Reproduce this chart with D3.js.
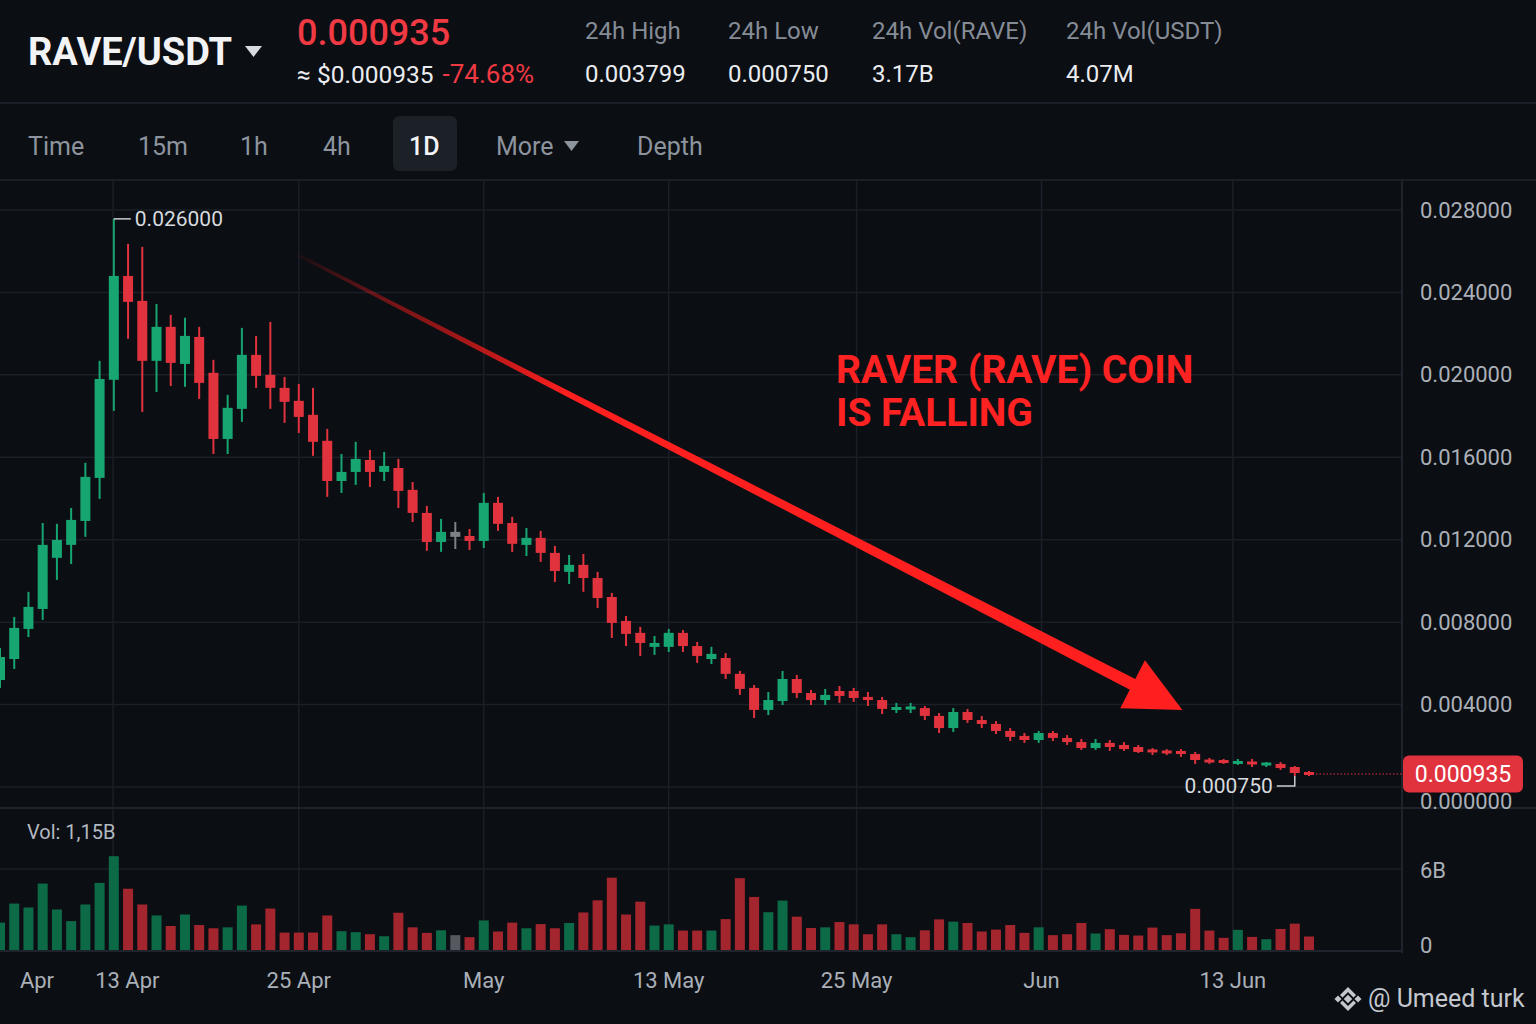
<!DOCTYPE html>
<html>
<head>
<meta charset="utf-8">
<script src="https://cdn.jsdelivr.net/npm/d3@7"></script>
<style>
html, body { margin: 0; padding: 0; background: #0b0e13; }
svg { display: block; font-family: Roboto, "Liberation Sans", sans-serif; }
</style>
</head>
<body>
<svg id="chart" width="1536" height="1024"></svg>
<script>
// daily candles
var opens = [0.00519,0.00621,0.00767,0.00864,0.01112,0.01175,0.01291,0.0150,0.01976,0.0248,
  0.02359,0.02068,0.02233,0.02053,0.02184,0.0201,0.01689,0.01835,0.02097,0.0200,
  0.01937,0.01874,0.01806,0.0168,0.01485,0.01529,0.01587,0.01529,0.01548,0.01442,
  0.0133,0.01189,0.01226,0.01218,0.01194,0.01379,0.01281,0.01175,0.01209,0.01136,
  0.01044,0.01078,0.01014,0.00922,0.00806,0.00748,0.0068,0.0068,0.00748,0.00684,
  0.00621,0.00626,0.00549,0.00481,0.00374,0.00417,0.00524,0.00456,0.00422,0.00466,
  0.00466,0.00437,0.00422,0.00374,0.00379,0.00383,0.00345,0.00286,0.00364,0.00325,
  0.00306,0.00272,0.00248,0.00228,0.00262,0.00238,0.00218,0.00189,0.00214,0.00204,
  0.00194,0.0018,0.00175,0.00175,0.0016,0.00131,0.00126,0.00112,0.00121,0.00107,
  0.00112,0.00097,0.00068];
var highs = [0.00675,0.00825,0.00947,0.01281,0.01277,0.01354,0.01573,0.02068,0.02757,0.02636,
  0.02621,0.02344,0.02291,0.02277,0.02233,0.02073,0.01903,0.02228,0.02189,0.02257,
  0.0199,0.01956,0.01937,0.01738,0.01616,0.01675,0.01636,0.01626,0.01592,0.0148,
  0.01364,0.01301,0.01286,0.01252,0.01427,0.01408,0.01311,0.01257,0.01243,0.0117,
  0.01126,0.01131,0.01044,0.00942,0.0083,0.00777,0.00733,0.00767,0.00762,0.00704,
  0.0068,0.0065,0.00563,0.00495,0.00461,0.00563,0.00544,0.00471,0.00476,0.0049,
  0.00481,0.00461,0.00437,0.00408,0.00408,0.00393,0.00359,0.00383,0.00379,0.00345,
  0.0032,0.00286,0.00262,0.00272,0.00272,0.00252,0.00233,0.00233,0.00228,0.00218,
  0.00204,0.00189,0.00184,0.00184,0.0017,0.00141,0.00136,0.00136,0.00136,0.00121,
  0.00121,0.00102,0.00078];
var lows = [0.00481,0.00573,0.00728,0.00811,0.01005,0.01082,0.01214,0.01398,0.01825,0.02175,
  0.0182,0.01917,0.01946,0.01942,0.01883,0.01616,0.01616,0.01772,0.01937,0.01835,
  0.01767,0.01718,0.01607,0.01408,0.01427,0.01466,0.01456,0.01485,0.01354,0.01286,
  0.01146,0.01141,0.01155,0.0115,0.0116,0.01243,0.01141,0.01121,0.01092,0.00995,
  0.00985,0.00947,0.00869,0.00723,0.00684,0.00636,0.00641,0.00655,0.00655,0.00602,
  0.00597,0.00524,0.00447,0.00335,0.00349,0.00398,0.00432,0.00398,0.00398,0.00408,
  0.00413,0.00393,0.00354,0.00359,0.00359,0.00325,0.00262,0.00267,0.00311,0.00286,
  0.00257,0.00223,0.00214,0.00214,0.00223,0.00204,0.0018,0.0018,0.00175,0.00175,
  0.00165,0.00155,0.00155,0.00146,0.00112,0.00112,0.00112,0.00107,0.00097,0.00097,
  0.00083,0.00053,0.00053];
var closes = [0.00631,0.00772,0.00874,0.01175,0.01199,0.01296,0.01505,0.0198,0.0248,0.02354,
  0.02068,0.02233,0.02058,0.02189,0.01961,0.01689,0.0184,0.02097,0.01995,0.01937,
  0.01869,0.01796,0.01675,0.01485,0.01529,0.01592,0.01529,0.01558,0.01437,0.0133,
  0.01189,0.01238,0.01226,0.01194,0.01379,0.01277,0.0118,0.01209,0.01136,0.01048,
  0.01078,0.01014,0.00917,0.00796,0.00743,0.00699,0.00699,0.00748,0.00684,0.00636,
  0.00646,0.00549,0.00476,0.00374,0.00422,0.00524,0.00456,0.00422,0.00447,0.00442,
  0.00432,0.00422,0.00379,0.00388,0.00388,0.00345,0.00286,0.00364,0.00325,0.00306,
  0.00272,0.00243,0.00228,0.00262,0.00238,0.00218,0.00189,0.00214,0.00194,0.00184,
  0.0017,0.0017,0.00165,0.0016,0.00131,0.00121,0.00121,0.00126,0.00112,0.00116,
  0.00092,0.00068,0.00063];
// volume in billions
var volumesB = [2.03,3.44,3.15,4.92,3.0,2.14,3.37,4.97,6.95,4.54,
  3.37,2.56,1.78,2.63,1.85,1.61,1.68,3.29,1.90,3.07,
  1.29,1.29,1.29,2.56,1.39,1.32,1.17,1.02,2.76,1.68,
  1.27,1.46,1.10,0.95,2.19,1.37,2.03,1.61,1.92,1.61,
  2.0,2.78,3.68,5.36,2.63,3.58,1.81,1.90,1.44,1.44,
  1.44,2.29,5.32,3.93,2.80,3.66,2.47,1.63,1.68,2.07,
  1.90,1.17,1.90,1.17,0.95,1.46,2.27,2.10,2.0,1.37,
  1.51,1.85,1.27,1.68,1.10,1.17,2.0,1.22,1.54,1.12,
  1.07,1.66,1.10,1.24,3.05,1.44,0.90,1.49,0.97,0.80,
  1.56,1.95,1.00];

var priceTicks = [0, 0.004, 0.008, 0.012, 0.016, 0.020, 0.024, 0.028];
var volTicks = [0, 6];
var dateLabels = ['Apr', '13 Apr', '25 Apr', 'May', '13 May', '25 May', 'Jun', '13 Jun'];
var dateLabelIdx = [2.6, 8.95, 21, 34, 47, 60.2, 73.2, 86.65];
var dateGridIdx = [7.95, 21, 34, 47, 60.2, 73.2, 86.65];

var statLabels = ['24h High', '24h Low', '24h Vol(RAVE)', '24h Vol(USDT)'];
var statValues = ['0.003799', '0.000750', '3.17B', '4.07M'];
var tabs = ['Time', '15m', '1h', '4h', '1D', 'More', 'Depth'];
var lastPriceText = '0.000935';
var changeText = '-74.68%';
var highNote = '0.026000';
var lowNote = '0.000750';

var green = '#17a671', red = '#e0333e', gray = '#7d8086';
var volGreen = '#0d6a47', volRed = '#a3252e', volGray = '#55585e';
var gridColor = '#1b1f27', axisText = '#aab0b8';

var svg = d3.select('#chart');
var axisX = 1402;

svg.append('rect').attr('width', 1536).attr('height', 1024).attr('fill', '#0b0e13');

var x = d3.scaleLinear().domain([0, opens.length - 1]).range([0, 1309]);
var y = d3.scaleLinear().domain([0, 0.028]).range([787, 210]);
var yVol = d3.scaleLinear().domain([0, 6]).range([950, 869]);

var candles = d3.range(opens.length).map(function(i) {
  return {i: i, o: opens[i], h: highs[i], l: lows[i], c: closes[i], v: volumesB[i]};
});
function dir(d) { return d.c > d.o ? 1 : (d.c < d.o ? -1 : 0); }

// ---- header ----
svg.append('line').attr('x1', 0).attr('x2', 1536).attr('y1', 103).attr('y2', 103)
   .attr('stroke', gridColor).attr('stroke-width', 2);
svg.append('line').attr('x1', 0).attr('x2', 1536).attr('y1', 180).attr('y2', 180)
   .attr('stroke', gridColor).attr('stroke-width', 2);

svg.append('text').attr('x', 28).attr('y', 52).attr('dominant-baseline', 'central')
   .attr('fill', '#f2f3f5').attr('font-size', 38).attr('font-weight', 700).text('RAVE/USDT');
svg.append('path').attr('d', 'M245,46 L262,46 L253.5,57 Z').attr('fill', '#d8dbe0');

svg.append('text').attr('x', 297).attr('y', 33).attr('dominant-baseline', 'central')
   .attr('fill', '#ef3a44').attr('font-size', 36).attr('font-weight', 500).text(lastPriceText);
var sub = svg.append('text').attr('x', 297).attr('y', 74).attr('dominant-baseline', 'central')
   .attr('font-size', 24.5);
sub.append('tspan').attr('fill', '#eaecef').text('\u2248 $' + lastPriceText);
sub.append('tspan').attr('fill', '#ef3a44').attr('dx', 9).attr('font-size', 26).text(changeText);

var statX = [585, 728, 872, 1066];
statLabels.forEach(function(s, k) {
  svg.append('text').attr('x', statX[k]).attr('y', 31).attr('dominant-baseline', 'central')
     .attr('fill', '#858c96').attr('font-size', 24).text(s);
  svg.append('text').attr('x', statX[k]).attr('y', 74).attr('dominant-baseline', 'central')
     .attr('fill', '#eaecef').attr('font-size', 24).text(statValues[k]);
});

var tabX = [28, 138, 240, 323, 409, 496, 637];
svg.append('rect').attr('x', 393).attr('y', 116).attr('width', 64).attr('height', 55)
   .attr('rx', 6).attr('fill', '#1c2027');
tabs.forEach(function(t, k) {
  svg.append('text').attr('x', tabX[k]).attr('y', 146).attr('dominant-baseline', 'central')
     .attr('fill', t === '1D' ? '#f4f5f7' : '#8d949e').attr('font-size', 25)
     .attr('font-weight', t === '1D' ? 500 : 400).text(t);
});
svg.append('path').attr('d', 'M564,141 L579,141 L571.5,151 Z').attr('fill', '#8d949e');

// ---- grid ----
var grid = svg.append('g');
grid.selectAll('.hg').data(priceTicks).enter().append('line')
    .attr('x1', 0).attr('x2', axisX).attr('y1', function(d) { return y(d); }).attr('y2', function(d) { return y(d); })
    .attr('stroke', gridColor).attr('stroke-width', 1.5);
grid.selectAll('.vg').data(dateGridIdx).enter().append('line')
    .attr('x1', function(d) { return x(d); }).attr('x2', function(d) { return x(d); })
    .attr('y1', 181).attr('y2', 951).attr('stroke', gridColor).attr('stroke-width', 1.5);
grid.append('line').attr('x1', 0).attr('x2', axisX).attr('y1', yVol(6)).attr('y2', yVol(6))
    .attr('stroke', gridColor).attr('stroke-width', 1.5);
svg.append('line').attr('x1', 0).attr('x2', 1536).attr('y1', 808).attr('y2', 808)
   .attr('stroke', '#1f232b').attr('stroke-width', 2);
svg.append('line').attr('x1', 0).attr('x2', axisX).attr('y1', 951).attr('y2', 951)
   .attr('stroke', '#1f232b').attr('stroke-width', 2);
svg.append('line').attr('x1', axisX).attr('x2', axisX).attr('y1', 181).attr('y2', 953)
   .attr('stroke', '#1f232b').attr('stroke-width', 2);

svg.append('clipPath').attr('id', 'plot').append('rect')
   .attr('x', 0).attr('y', 181).attr('width', axisX - 1).attr('height', 772);
var plot = svg.append('g').attr('clip-path', 'url(#plot)');

// ---- volume bars ----
plot.selectAll('.vol').data(candles).enter().append('rect')
    .attr('x', function(d) { return x(d.i) - 5; })
    .attr('width', 10)
    .attr('y', function(d) { return yVol(d.v); })
    .attr('height', function(d) { return yVol(0) - yVol(d.v); })
    .attr('fill', function(d) { var s = dir(d); return s > 0 ? volGreen : (s < 0 ? volRed : volGray); });

// ---- candles ----
plot.selectAll('.wick').data(candles).enter().append('line')
    .attr('x1', function(d) { return x(d.i); }).attr('x2', function(d) { return x(d.i); })
    .attr('y1', function(d) { return y(d.h); }).attr('y2', function(d) { return y(d.l); })
    .attr('stroke-width', 2)
    .attr('stroke', function(d) { var s = dir(d); return s > 0 ? green : (s < 0 ? red : gray); });
plot.selectAll('.body').data(candles).enter().append('rect')
    .attr('x', function(d) { return x(d.i) - 5; })
    .attr('width', 10)
    .attr('y', function(d) {
      var t = y(Math.max(d.o, d.c)), b = y(Math.min(d.o, d.c)), mh = dir(d) === 0 ? 5 : 3;
      return b - t < mh ? (t + b) / 2 - mh / 2 : t;
    })
    .attr('height', function(d) { return Math.max(dir(d) === 0 ? 5 : 3, Math.abs(y(d.o) - y(d.c))); })
    .attr('fill', function(d) { var s = dir(d); return s > 0 ? green : (s < 0 ? red : gray); });

// last price dotted line
var last = candles[candles.length - 1];
svg.append('line').attr('x1', x(last.i) + 7).attr('x2', axisX).attr('y1', y(last.c)).attr('y2', y(last.c))
   .attr('stroke', red).attr('stroke-width', 1.2).attr('stroke-dasharray', '1.5,2');

// high / low notes
var hiI = d3.maxIndex(highs), loI = d3.minIndex(lows);
svg.append('path')
   .attr('d', 'M' + x(hiI) + ',' + y(highs[hiI]) + ' H' + (x(hiI) + 17))
   .attr('stroke', '#c9cdd2').attr('stroke-width', 1.5).attr('fill', 'none');
svg.append('text').attr('x', x(hiI) + 21).attr('y', y(highs[hiI])).attr('dominant-baseline', 'central')
   .attr('fill', '#d7dade').attr('font-size', 21).text(highNote);
svg.append('path')
   .attr('d', 'M' + x(loI) + ',' + y(lows[loI]) + ' V' + (y(lows[loI]) + 10) + ' H' + (x(loI) - 18))
   .attr('stroke', '#c9cdd2').attr('stroke-width', 1.5).attr('fill', 'none');
svg.append('text').attr('x', x(loI) - 22).attr('y', y(lows[loI]) + 10).attr('dominant-baseline', 'central')
   .attr('text-anchor', 'end').attr('fill', '#d7dade').attr('font-size', 21).text(lowNote);

// ---- trend arrow ----
var arrowFrom = {i: 21, p: 0.0258}, arrowTo = {i: 83.1, p: 0.00374};
var ax0 = x(arrowFrom.i), ay0 = y(arrowFrom.p), ax1 = x(arrowTo.i), ay1 = y(arrowTo.p);
var len = Math.hypot(ax1 - ax0, ay1 - ay0);
var ux = (ax1 - ax0) / len, uy = (ay1 - ay0) / len, nx = -uy, ny = ux;
var headLen = 56, headW = 27;
var bx = ax1 - ux * headLen, by = ay1 - uy * headLen;
var defs = svg.append('defs');
var grad = defs.append('linearGradient').attr('id', 'arrowGrad').attr('gradientUnits', 'userSpaceOnUse')
   .attr('x1', ax0).attr('y1', ay0).attr('x2', ax0 + ux * 300).attr('y2', ay0 + uy * 300);
grad.append('stop').attr('offset', 0).attr('stop-color', '#ff1f1f').attr('stop-opacity', 0.05);
grad.append('stop').attr('offset', 0.5).attr('stop-color', '#c81818').attr('stop-opacity', 0.7);
grad.append('stop').attr('offset', 1).attr('stop-color', '#ff1f1f').attr('stop-opacity', 1);
var w0 = 1.5, w1 = 6;
var shaft = [
  [ax0 + nx * w0, ay0 + ny * w0], [bx + ux * 6 + nx * w1, by + uy * 6 + ny * w1],
  [bx + ux * 6 - nx * w1, by + uy * 6 - ny * w1], [ax0 - nx * w0, ay0 - ny * w0]
];
svg.append('path').attr('d', 'M' + shaft.join('L') + 'Z').attr('fill', 'url(#arrowGrad)');
var head = [[ax1, ay1], [bx + nx * headW, by + ny * headW], [bx - nx * headW, by - ny * headW]];
svg.append('path').attr('d', 'M' + head.join('L') + 'Z').attr('fill', '#ff1f1f');

svg.append('text').attr('x', 836).attr('y', 370).attr('dominant-baseline', 'central')
   .attr('fill', '#ff2222').attr('font-size', 39).attr('font-weight', 700).text('RAVER (RAVE) COIN');
svg.append('text').attr('x', 836).attr('y', 413).attr('dominant-baseline', 'central')
   .attr('fill', '#ff2222').attr('font-size', 39).attr('font-weight', 700).text('IS FALLING');

// ---- right axis ----
var fmt = d3.format('.6f');
svg.selectAll('.pl').data(priceTicks).enter().append('text')
   .attr('x', 1420).attr('y', function(d) { return d === 0 ? y(d) + 14 : y(d); })
   .attr('dominant-baseline', 'central').attr('fill', axisText).attr('font-size', 22)
   .text(function(d) { return fmt(d); });
svg.selectAll('.vl').data(volTicks).enter().append('text')
   .attr('x', 1420).attr('y', function(d) { return d === 0 ? yVol(d) - 5 : yVol(d) + 1; })
   .attr('dominant-baseline', 'central').attr('fill', axisText).attr('font-size', 22)
   .text(function(d) { return d === 0 ? '0' : d + 'B'; });

// last price tag
svg.append('rect').attr('x', 1403).attr('y', y(last.c) - 18.5).attr('width', 120).attr('height', 37)
   .attr('rx', 6).attr('fill', '#e0333e');
svg.append('text').attr('x', 1463).attr('y', y(last.c)).attr('text-anchor', 'middle')
   .attr('dominant-baseline', 'central').attr('fill', '#ffffff').attr('font-size', 23).text(lastPriceText);

// volume legend
svg.append('text').attr('x', 27).attr('y', 832).attr('dominant-baseline', 'central')
   .attr('fill', '#b3b9c1').attr('font-size', 20).text('Vol: 1,15B');

// ---- date axis ----
svg.selectAll('.dl').data(dateLabels).enter().append('text')
   .attr('x', function(d, k) { return x(dateLabelIdx[k]); }).attr('y', 980)
   .attr('text-anchor', 'middle').attr('dominant-baseline', 'central')
   .attr('fill', axisText).attr('font-size', 22).text(function(d) { return d; });

// ---- watermark ----
var logo = svg.append('g').attr('transform', 'translate(1348,999)').attr('fill', '#c4c8ce');
[[0, 0, 3], [-10, 0, 2.5], [10, 0, 2.5]].forEach(function(p) {
  logo.append('rect').attr('x', p[0] - p[2]).attr('y', p[1] - p[2]).attr('width', p[2] * 2).attr('height', p[2] * 2)
      .attr('transform', 'rotate(45,' + p[0] + ',' + p[1] + ')');
});
logo.append('path').attr('d', 'M-8,-4 L0,-12 L8,-4 L5.5,-1.5 L0,-7 L-5.5,-1.5 Z');
logo.append('path').attr('d', 'M-8,4 L0,12 L8,4 L5.5,1.5 L0,7 L-5.5,1.5 Z');
svg.append('text').attr('x', 1368).attr('y', 998).attr('dominant-baseline', 'central')
   .attr('fill', '#c4c8ce').attr('font-size', 25).text('@ Umeed turk');
</script>
</body>
</html>
